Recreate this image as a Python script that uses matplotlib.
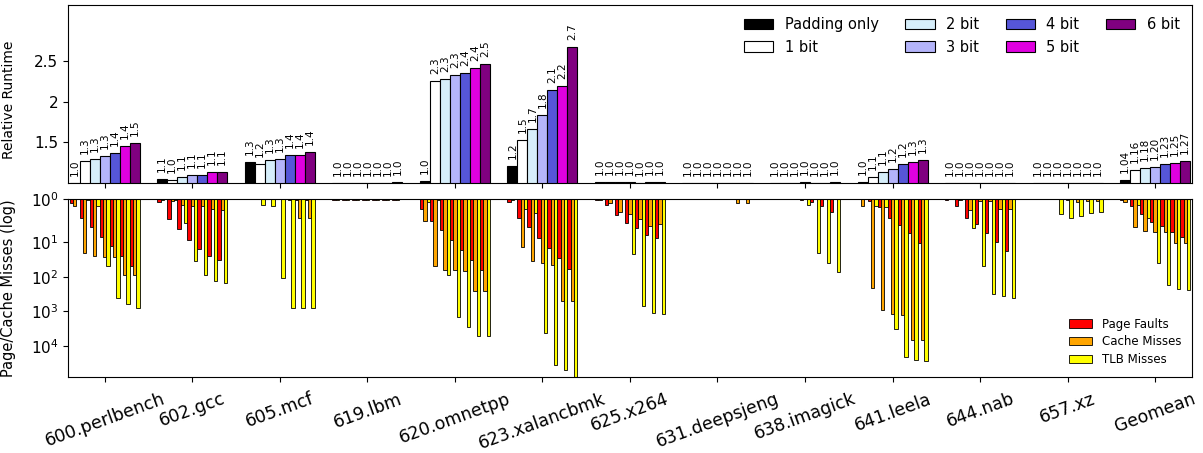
import matplotlib
matplotlib.use("Agg")
import matplotlib.pyplot as plt
import numpy as np

benchmarks = ["600.perlbench", "602.gcc", "605.mcf", "619.lbm", "620.omnetpp",
              "623.xalancbmk", "625.x264", "631.deepsjeng", "638.imagick",
              "641.leela", "644.nab", "657.xz", "Geomean"]
configs = ["Padding only", "1 bit", "2 bit", "3 bit", "4 bit", "5 bit", "6 bit"]
config_colors = ["#000000", "#ffffff", "#d6eefa", "#b4b4fa", "#5656d8", "#e000e0", "#800080"]

# relative runtime, one list per config (13 benchmarks)
rt_pad  = [1.00, 1.05, 1.26, 1.00, 1.02, 1.21, 1.01, 1.00, 1.00, 1.01, 1.00, 1.00, 1.04]
rt_bit1 = [1.27, 1.04, 1.24, 1.00, 2.26, 1.53, 1.01, 1.00, 1.00, 1.08, 1.00, 1.00, 1.16]
rt_bit2 = [1.30, 1.07, 1.28, 1.00, 2.28, 1.66, 1.01, 1.00, 1.00, 1.13, 1.00, 1.00, 1.18]
rt_bit3 = [1.33, 1.10, 1.29, 1.00, 2.33, 1.84, 1.01, 1.00, 1.01, 1.17, 1.00, 1.00, 1.20]
rt_bit4 = [1.37, 1.10, 1.35, 1.00, 2.35, 2.14, 1.00, 1.00, 1.00, 1.24, 1.00, 1.00, 1.23]
rt_bit5 = [1.45, 1.13, 1.35, 1.00, 2.42, 2.19, 1.01, 1.00, 1.00, 1.26, 1.00, 1.00, 1.25]
rt_bit6 = [1.49, 1.13, 1.38, 1.01, 2.46, 2.67, 1.01, 1.00, 1.01, 1.28, 1.00, 1.00, 1.27]
runtimes = [rt_pad, rt_bit1, rt_bit2, rt_bit3, rt_bit4, rt_bit5, rt_bit6]

# misses per benchmark: [padding, 1 bit, ..., 6 bit]
page_faults = [
    [1.22, 2.0, 3.55, 6.9, 12.6, 24.5, 48],
    [1.15, 2.1, 4.1, 8.6, 16, 25, 33],
    [1.02, 1.02, 1.02, 1.02, 1.02, 1.03, 1.03],
    [1.05, 1.03, 1.05, 1.03, 1.05, 1.03, 1.05],
    [1.5, 2.37, 4.4, 8.3, 16.3, 32, 62],
    [1.15, 2.0, 3.7, 7.3, 14.3, 28.5, 58],
    [1.03, 1.3, 1.85, 2.7, 3.8, 6.2, 7.3],
    [1.02, 1.02, 1.02, 1.02, 1.02, 1.02, 1.02],
    [1.02, 1.02, 1.02, 1.05, 1.15, 1.35, 1.7],
    [1.02, 1.1, 1.4, 2.0, 3.2, 5.5, 10.5],
    [1.05, 1.37, 1.98, 2.9, 5.3, 9.8, 18],
    [1.02, 1.02, 1.02, 1.02, 1.02, 1.02, 1.02],
    [1.05, 1.37, 1.8, 2.5, 3.4, 4.9, 6.9],
]
cache_misses = [
    [1.35, 20.9, 25.4, 26.3, 27.2, 87, 89],
    [1.05, 1.1, 1.3, 1.35, 1.35, 1.5, 1.55],
    [1.02, 1.02, 1.02, 1.02, 1.03, 2.0, 2.0],
    [1.03, 1.03, 1.03, 1.03, 1.03, 1.03, 1.03],
    [2.37, 50, 62, 65, 69, 263, 263],
    [1.05, 13.7, 35.5, 41, 44, 513, 513],
    [1.03, 1.2, 1.66, 1.8, 2.1, 3.4, 3.0],
    [1.02, 1.02, 1.02, 1.02, 1.02, 1.2, 1.2],
    [1.02, 1.02, 1.02, 1.02, 1.02, 1.02, 1.02],
    [1.35, 210, 935, 1170, 1250, 6900, 6900],
    [1.02, 1.05, 1.55, 1.1, 1.1, 1.5, 1.5],
    [1.02, 1.02, 1.02, 1.05, 1.15, 1.1, 1.1],
    [1.15, 3.55, 4.6, 4.9, 4.9, 10.5, 10.5],
]
tlb_misses = [
    [1.02, 1.05, 1.35, 48, 403, 618, 822],
    [1.0, 1.05, 2.8, 35, 86, 132, 148],
    [1.02, 1.3, 1.35, 105, 780, 780, 780],
    [1.02, 1.02, 1.02, 1.02, 1.02, 1.02, 1.02],
    [1.15, 1.05, 91, 1460, 2850, 5300, 5300],
    [1.0, 1.5, 1.75, 4150, 35000, 51000, 90000],
    [1.02, 1.02, 1.02, 22, 710, 1100, 1170],
    [1.02, 1.02, 1.02, 1.02, 1.02, 1.02, 1.02],
    [1.02, 1.02, 1.02, 1.3, 21, 41, 72],
    [1.02, 1.35, 1.4, 3170, 21000, 26000, 27000],
    [1.02, 1.02, 3.9, 50, 310, 370, 400],
    [1.02, 1.02, 1.8, 2.0, 1.9, 1.75, 1.7],
    [1.02, 1.3, 2.0, 39, 168, 220, 245],
]
miss_names = ["Page Faults", "Cache Misses", "TLB Misses"]
miss_colors = ["#ff0000", "#ffa500", "#ffff00"]

fig = plt.figure(figsize=(12.03, 4.53), dpi=100)
ax1 = fig.add_axes([0.0565, 0.596, 0.9343, 0.393])
ax2 = fig.add_axes([0.0565, 0.1684, 0.9343, 0.3923])

x = np.arange(len(benchmarks))
w = 0.8 / len(configs)

# top: relative runtime
for j, vals in enumerate(runtimes):
    pos = x + (j - 3) * w
    ax1.bar(pos, vals, w, color=config_colors[j], edgecolor="black",
            linewidth=0.8, label=configs[j])
    for i, v in enumerate(vals):
        fmt = "{:.2f}" if benchmarks[i] == "Geomean" else "{:.1f}"
        ax1.annotate(fmt.format(v), (pos[i], v), xytext=(0, 5),
                     textcoords="offset points", rotation=90,
                     ha="center", va="bottom", fontsize=7.5)

ax1.set_ylim(1, 3.19)
ax1.set_xlim(-0.42, 12.42)
ax1.set_yticks([1.5, 2, 2.5])
ax1.set_yticklabels(["1.5", "2", "2.5"])
ax1.set_xticks(x)
ax1.set_xticklabels([])
ax1.tick_params(labelsize=11)
ax1.set_ylabel("Relative Runtime", fontsize=10)
ax1.yaxis.set_label_coords(-0.046, 0.47)
ax1.legend(ncol=4, loc="upper right", frameon=False, fontsize=10.5,
           columnspacing=1.8, borderaxespad=0.45)

# bottom: misses, symlog, inverted
metrics = [page_faults, cache_misses, tlb_misses]
for k, data in enumerate(metrics):
    arr = np.array(data)
    for j in range(len(configs)):
        pos = x + (j - 3) * w + (k - 1) * w / 3
        ax2.bar(pos, arr[:, j], w / 3, color=miss_colors[k], edgecolor="black",
                linewidth=0.6, label=miss_names[k] if j == 0 else None)

ax2.set_yscale("symlog", linthresh=2)
ax2.set_ylim(7.8e4, 1)
ax2.set_xlim(-0.42, 12.42)
ax2.set_yticks([1, 10, 100, 1000, 10000])
ax2.set_yticklabels([r"$10^{0}$", r"$10^{1}$", r"$10^{2}$", r"$10^{3}$", r"$10^{4}$"])
ax2.yaxis.set_minor_locator(matplotlib.ticker.NullLocator())
ax2.set_xticks(x)
ax2.set_xticklabels(benchmarks, rotation=20, ha="center", fontsize=12.5)
ax2.tick_params(axis="x", pad=6)
ax2.tick_params(axis="y", labelsize=11)
ax2.set_ylabel("Page/Cache Misses (log)", fontsize=10.5)
ax2.yaxis.set_label_coords(-0.046, 0.5)
ax2.legend(loc="lower right", frameon=False, fontsize=8.5, labelspacing=0.4,
           borderaxespad=0.5)

fig.savefig("out.png", dpi=100)
